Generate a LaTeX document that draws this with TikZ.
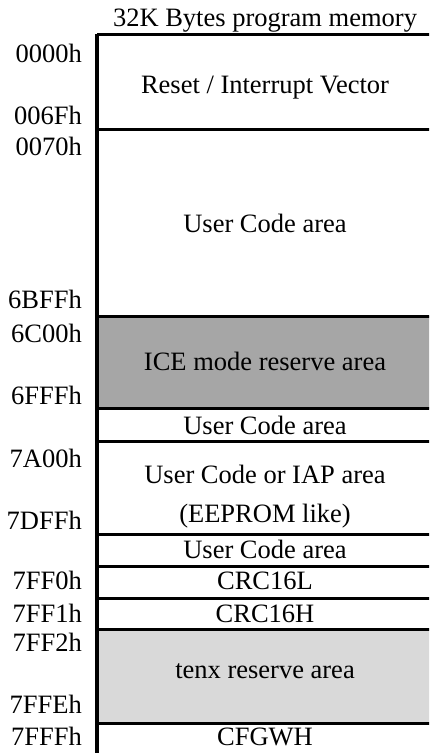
\documentclass[tikz,border=0pt]{standalone}
\usepackage{fontspec}
\setmainfont{Liberation Serif}
\definecolor{icegray}{HTML}{A6A6A6}
\definecolor{tenxgray}{HTML}{D9D9D9}
\begin{document}
\begin{tikzpicture}[x=1pt,y=-1pt,
  every node/.style={font=\fontsize{26.5}{38}\selectfont, inner sep=0pt},
  addr/.style={anchor=base east},
  area/.style={anchor=base},
  sepline/.style={line width=3pt},
  leftline/.style={line width=4.5pt}]
\useasboundingbox (0,0) rectangle (429,753);
\clip (0,0) rectangle (429,753);
% fills
\fill[icegray] (97,316) rectangle (440,408.5);
\fill[tenxgray] (97,629) rectangle (440,723);
% separators
\coordinate (tl) at (97,34);
\coordinate (bl) at (97,760);
\foreach \y in {34,129,316,408.5,441,534,566,598,629,723}
  \draw[sepline] (97,\y) -- (440,\y);
\draw[leftline] (tl) -- (bl);
% title
\node[area] (title) at (265,26) {32K Bytes program memory};
% addresses
\node[addr] (a0000) at (82,62) {0000h};
\node[addr] (a006F) at (82,124) {006Fh};
\node[addr] (a0070) at (82,155) {0070h};
\node[addr] (a6BFF) at (82,308) {6BFFh};
\node[addr] (a6C00) at (82,342) {6C00h};
\node[addr] (a6FFF) at (82,404) {6FFFh};
\node[addr] (a7A00) at (82,467) {7A00h};
\node[addr] (a7DFF) at (82,529) {7DFFh};
\node[addr] (a7FF0) at (82,589) {7FF0h};
\node[addr] (a7FF1) at (82,622) {7FF1h};
\node[addr] (a7FF2) at (82,651) {7FF2h};
\node[addr] (a7FFE) at (82,713) {7FFEh};
\node[addr] (a7FFF) at (82,745) {7FFFh};
% areas
\node[area] (reset) at (265,93) {Reset / Interrupt Vector};
\node[area] (user1) at (265,232) {User Code area};
\node[area] (ice) at (265,370) {ICE mode reserve area};
\node[area] (user2) at (265,434) {User Code area};
\node[area] (iap1) at (265,483) {User Code or IAP area};
\node[area] (iap2) at (265,522) {(EEPROM like)};
\node[area] (user3) at (265,558) {User Code area};
\node[area] (crcl) at (265,589) {CRC16L};
\node[area] (crch) at (265,622) {CRC16H};
\node[area] (tenx) at (265,678) {tenx reserve area};
\node[area] (cfg) at (265,745) {CFGWH};
\end{tikzpicture}
\end{document}
